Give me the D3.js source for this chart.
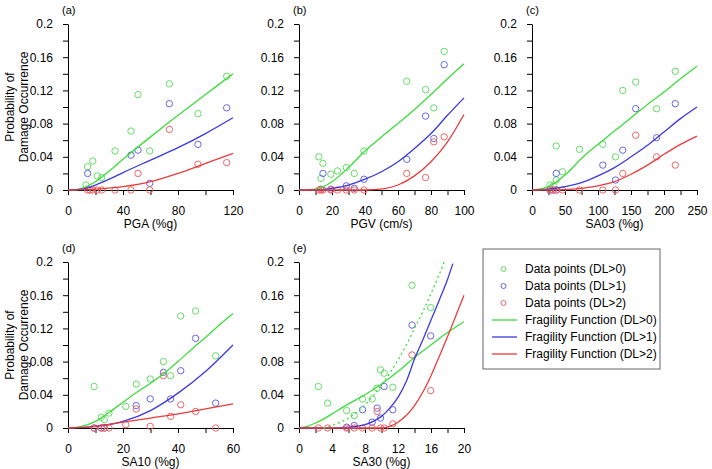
<!DOCTYPE html>
<html>
<head>
<meta charset="utf-8">
<script src="https://cdnjs.cloudflare.com/ajax/libs/d3/7.8.5/d3.min.js"></script>
<style>
	body { margin:0; background:#fff; }
	svg { font-family:"Liberation Sans", Arial, sans-serif; }
	.axis path, .axis line { stroke:#000; }
	.axis text { font-size:12px; fill:#000; }
</style>
</head>
<body>
<div id="chart-area"></div>
<script>

var pgaDL0 = [[13.1,0.006],[14.3,0.028],[18,0.035],[21.3,0.017],[24.5,0.015],[34.2,0.047],[45.8,0.071],[50.9,0.115],[59.4,0.047],[73.7,0.128],[94.5,0.092],[115.4,0.137]];
var pgaDL1 = [[14.3,0.020],[45.8,0.042],[50.9,0.048],[59.4,0.008],[73.7,0.104],[94.5,0.055],[115.4,0.099]];
var pgaDL2 = [[14.3,0],[16,0],[18,0],[21.3,0],[24.5,0],[34.2,0],[45.8,0],[50.9,0.020],[59.4,0],[73.7,0.073],[94.5,0.031],[115.4,0.033]];

var pgvDL0 = [[12,0.040],[14.5,0.032],[13.3,0.014],[19.3,0.019],[23.3,0.023],[28.7,0.027],[33.5,0.020],[39.4,0.047],[65.3,0.131],[76.7,0.121],[81.7,0.099],[88,0.167]];
var pgvDL1 = [[13.3,0.001],[14.5,0.020],[19.3,0.001],[28.7,0.005],[33.5,0.002],[39.4,0.013],[65.3,0.037],[76.7,0.089],[81.7,0.062],[88,0.151]];
var pgvDL2 = [[12,0],[13.3,0],[14.5,0],[19.3,0],[23.3,0],[28.7,0],[33.5,0],[39.4,0],[65.3,0.020],[76.7,0.015],[81.7,0.058],[88,0.064]];

var sa03DL0 = [[27.2,0.006],[32,0.005],[36.7,0.012],[36.7,0.053],[46.2,0.022],[72.1,0.049],[107.3,0.055],[126.4,0.040],[137.5,0.120],[157.1,0.130],[188.8,0.098],[217.1,0.143]];
var sa03DL1 = [[27.2,0],[32,0],[36.7,0.020],[37,0],[107.3,0.030],[126.4,0.012],[137.5,0.048],[157.1,0.098],[188.8,0.063],[217.1,0.104]];
var sa03DL2 = [[27.2,0],[32,0],[37,0],[46.2,0],[72.1,0],[107.3,0],[126.4,0],[137.5,0.020],[157.1,0.066],[188.8,0.040],[217.1,0.030]];

var sa10DL0 = [[9.5,0.050],[12.1,0.013],[13.2,0.010],[14.9,0.018],[21,0.026],[24.8,0.053],[29.9,0.059],[34.7,0.080],[37.3,0.063],[41,0.135],[46.4,0.141],[53.7,0.087]];
var sa10DL1 = [[9.5,0],[12.1,0],[13.2,0],[24.8,0.027],[29.9,0.035],[34.7,0.067],[37.3,0.035],[41,0.069],[46.4,0.108],[53.7,0.030]];
var sa10DL2 = [[9.5,0],[12.1,0],[13.2,0],[14.9,0],[21,0.004],[24.8,0.023],[29.9,0.002],[34.7,0.063],[37.3,0.014],[41,0.028],[46.4,0.020],[53.7,0]];

var sa30DL0 = [[2.34,0.050],[3.47,0.030],[5.77,0.021],[6.69,0.015],[7.7,0.035],[8.87,0.035],[9.47,0.048],[9.88,0.070],[10.32,0.066],[11.37,0.049],[13.7,0.172],[15.96,0.145]];
var sa30DL1 = [[5.77,0.001],[6.69,0.003],[7.7,0.022],[8.87,0.007],[9.47,0.024],[9.88,0.012],[10.32,0.050],[11.37,0.022],[13.7,0.124],[15.96,0.111]];
var sa30DL2 = [[2.34,0],[3.47,0],[5.77,0],[6.69,0],[7.7,0],[8.87,0],[9.47,0.020],[9.88,0],[10.32,0],[11.37,0.005],[13.7,0.088],[15.96,0.045]];

// fragility curves, points
var pgaFit0 = [[0,0],[5,0],[10,0.002],[20,0.010],[30,0.023],[40,0.037],[60,0.064],[80,0.090],[100,0.115],[120,0.140]];
var pgaFit1 = [[0,0],[10,0.001],[20,0.006],[30,0.013],[40,0.021],[60,0.036],[80,0.051],[100,0.068],[120,0.087]];
var pgaFit2 = [[0,0],[20,0.001],[40,0.004],[60,0.010],[80,0.020],[100,0.032],[120,0.044]];

var pgvFit0 = [[0,0],[10,0.001],[20,0.010],[30,0.027],[40,0.047],[50,0.064],[60,0.080],[70,0.097],[80,0.115],[90,0.134],[100,0.152]];
var pgvFit1 = [[0,0],[10,0],[20,0.002],[30,0.006],[40,0.013],[50,0.022],[60,0.034],[70,0.050],[80,0.068],[90,0.090],[100,0.111]];
var pgvFit2 = [[0,0],[40,0],[50,0.001],[60,0.006],[70,0.017],[80,0.034],[90,0.058],[100,0.091]];

var sa03Fit0 = [[0,0],[25,0.004],[50,0.018],[75,0.038],[100,0.055],[125,0.071],[150,0.087],[175,0.103],[200,0.118],[225,0.134],[250,0.149]];
var sa03Fit1 = [[0,0],[25,0.001],[50,0.004],[75,0.009],[100,0.017],[125,0.027],[150,0.040],[175,0.054],[200,0.070],[225,0.086],[250,0.100]];
var sa03Fit2 = [[0,0],[50,0.0005],[75,0.002],[100,0.005],[125,0.010],[150,0.019],[175,0.030],[200,0.043],[225,0.055],[250,0.065]];

var sa10Fit0 = [[0,0],[5,0.002],[10,0.008],[15,0.019],[20,0.031],[25,0.043],[30,0.054],[35,0.066],[40,0.080],[45,0.095],[50,0.109],[55,0.124],[60,0.138]];
var sa10Fit1 = [[0,0],[10,0.002],[20,0.008],[30,0.021],[40,0.042],[50,0.068],[60,0.100]];
var sa10Fit2 = [[0,0],[10,0.002],[20,0.007],[30,0.012],[40,0.017],[50,0.023],[60,0.029]];

var sa30Fit0 = [[0,0],[1,0.002],[2,0.006],[3,0.011],[4,0.017],[6,0.029],[8,0.040],[10,0.053],[12,0.068],[14,0.085],[16,0.100],[18,0.115],[20,0.128]];
var sa30Fit0b = [[3,0],[4,0.003],[5,0.007],[6,0.012],[7,0.019],[8,0.028],[9,0.039],[10,0.052],[11,0.066],[12,0.082],[13,0.100],[14,0.120],[15,0.140],[16,0.162],[17,0.185],[17.6,0.2]];
var sa30Fit1 = [[0,0],[4,0],[6,0.001],[8,0.004],[9,0.008],[10,0.014],[11,0.024],[12,0.037],[13,0.056],[14,0.083],[15,0.106],[16,0.130],[17,0.154],[18,0.179],[18.65,0.198]];
var sa30Fit2 = [[0,0],[10,0],[11,0.002],[12,0.007],[13,0.015],[14,0.027],[15,0.043],[16,0.063],[17,0.086],[18,0.110],[19,0.135],[20,0.160]];

var legendLabels = ["Data points (DL>0)","Data points (DL>1)","Data points (DL>2)",
	"Fragility Function (DL>0)","Fragility Function (DL>1)","Fragility Function (DL>2)"];

var lineColors = ["#3ddc3d","#3a3ae0","#e83c3c"];
var dotColors = ["#66dd66","#6666e6","#ee6666"];

var width = 712, height = 469;
var pw = 165, ph = 166;

var svg = d3.select("#chart-area")
	.append("svg")
		.attr("width",width)
		.attr("height",height);

var panels = [
	{tag:"(a)", left:68, top:24, xmax:120, step:20, lab:40, title:"PGA (%g)", pts:[pgaDL0,pgaDL1,pgaDL2], fits:[pgaFit0,pgaFit1,pgaFit2], ylab:true},
	{tag:"(b)", left:299, top:24, xmax:100, step:10, lab:20, title:"PGV (cm/s)", pts:[pgvDL0,pgvDL1,pgvDL2], fits:[pgvFit0,pgvFit1,pgvFit2]},
	{tag:"(c)", left:532, top:24, xmax:250, step:25, lab:50, title:"SA03 (%g)", pts:[sa03DL0,sa03DL1,sa03DL2], fits:[sa03Fit0,sa03Fit1,sa03Fit2]},
	{tag:"(d)", left:68, top:262, xmax:60, step:10, lab:20, title:"SA10 (%g)", pts:[sa10DL0,sa10DL1,sa10DL2], fits:[sa10Fit0,sa10Fit1,sa10Fit2], ylab:true},
	{tag:"(e)", left:299, top:262, xmax:20, step:2, lab:4, title:"SA30 (%g)", pts:[sa30DL0,sa30DL1,sa30DL2], fits:[sa30Fit0,sa30Fit1,sa30Fit2], dotted:sa30Fit0b}
];

panels.forEach(function(p){

	var g = svg.append("g")
		.attr("transform","translate("+p.left+","+p.top+")");

	var x = d3.scaleLinear().domain([0,p.xmax]).range([0,pw]);
	var y = d3.scaleLinear().domain([0,0.2]).range([ph,0]);

	var xAxisCall = d3.axisBottom(x)
		.tickValues(d3.range(0,p.xmax+0.001,p.step))
		.tickSizeInner(5)
		.tickSizeOuter(0)
		.tickPadding(11)
		.tickFormat(function(d){
			return Math.abs(d/p.lab - Math.round(d/p.lab)) < 1e-6 ? d : "";
		});
	g.append("g")
		.attr("class","x axis")
		.attr("transform","translate(0,"+ph+")")
		.call(xAxisCall);

	var yAxisCall = d3.axisLeft(y)
		.tickValues(d3.range(0,0.2001,0.02))
		.tickSizeInner(5)
		.tickSizeOuter(0)
		.tickPadding(10)
		.tickFormat(function(d){
			var k = Math.round(d*100);
			if(k % 4 != 0) return "";
			return k == 0 ? "0" : +(d.toFixed(2));
		});
	g.append("g")
		.attr("class","y axis")
		.call(yAxisCall);

	var line = d3.line()
		.x(function(d){ return x(d[0]); })
		.y(function(d){ return y(d[1]); })
		.curve(d3.curveMonotoneX);

	// circles first, lines on top
	p.pts.forEach(function(s, i){
		g.selectAll("circle.s"+i)
			.data(s)
			.enter()
			.append("circle")
				.attr("class","s"+i)
				.attr("cx",function(d){ return x(d[0]); })
				.attr("cy",function(d){ return y(d[1]); })
				.attr("r",3.2)
				.attr("fill","none")
				.attr("stroke",dotColors[i])
				.attr("stroke-width",1);
	});

	p.fits.forEach(function(s, i){
		g.append("path")
			.datum(s)
			.attr("d",line)
			.attr("fill","none")
			.attr("stroke",lineColors[i])
			.attr("stroke-width",1.3);
	});

	if(p.dotted){
		g.append("path")
			.datum(p.dotted)
			.attr("d",line)
			.attr("fill","none")
			.attr("stroke",lineColors[0])
			.attr("stroke-width",1.3)
			.attr("stroke-dasharray","2,3");
	}

	g.append("text")
		.attr("x",-6)
		.attr("y",-10)
		.attr("font-size","11px")
		.text(p.tag);

	g.append("text")
		.attr("x",pw/2)
		.attr("y",ph+38)
		.attr("font-size","12px")
		.attr("text-anchor","middle")
		.text(p.title);

	if(p.ylab){
		g.append("text")
			.attr("transform","rotate(-90)")
			.attr("x",-ph/2)
			.attr("y",-54)
			.attr("font-size","12px")
			.attr("text-anchor","middle")
			.text("Probability of");
		g.append("text")
			.attr("transform","rotate(-90)")
			.attr("x",-ph/2)
			.attr("y",-40)
			.attr("font-size","12px")
			.attr("text-anchor","middle")
			.text("Damage Occurrence");
	}
});

// legend
var lg = svg.append("g")
	.attr("transform","translate(483,249)");

lg.append("rect")
	.attr("width",177)
	.attr("height",120)
	.attr("fill","#fff")
	.attr("stroke","#666")
	.attr("stroke-width",1);

legendLabels.forEach(function(t, i){
	var yy = 20 + i*17;
	if(i < 3){
		lg.append("circle")
			.attr("cx",20.5)
			.attr("cy",yy)
			.attr("r",2.5)
			.attr("fill","none")
			.attr("stroke",dotColors[i]);
	} else {
		lg.append("line")
			.attr("x1",9)
			.attr("x2",34)
			.attr("y1",yy)
			.attr("y2",yy)
			.attr("stroke",lineColors[i-3])
			.attr("stroke-width",1.3);
	}
	lg.append("text")
		.attr("x",42)
		.attr("y",yy+4)
		.attr("font-size","12px")
		.text(t);
});

</script>
</body>
</html>
